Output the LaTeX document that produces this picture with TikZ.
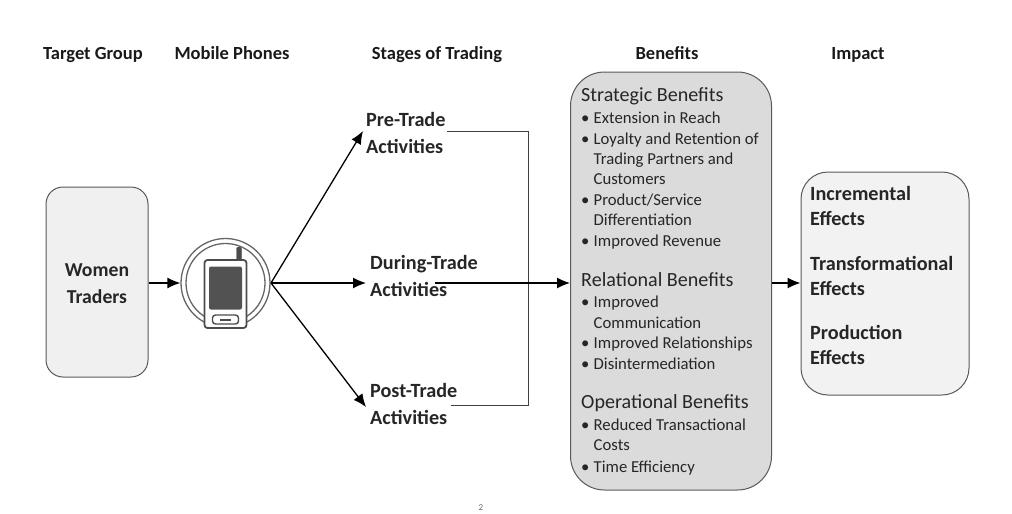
\documentclass[tikz,border=0pt]{standalone}
\usepackage{fontspec}
\setmainfont{Carlito}
\usepackage{tikz}
\usetikzlibrary{arrows.meta}
\usetikzlibrary{positioning}
\definecolor{boxline}{gray}{0.35}

\begin{document}
\begin{tikzpicture}[x=1pt,y=-1pt]
  \tikzset{heading/.style = {font=\fontsize{18.5}{20}\selectfont\bfseries,inner sep=0pt,anchor=base,text=black!90}}
  \tikzset{stage/.style = {font=\fontsize{20.2}{27.5}\selectfont\bfseries,inner sep=0pt,align=left,anchor=north west,text=black!85}}
  \tikzset{effect/.style = {font=\fontsize{20.2}{25}\selectfont\bfseries,inner sep=0pt,align=left,anchor=north west,text=black!85}}
  \tikzset{groupbox/.style = {draw=boxline,line width=1pt,rounded corners=17pt,fill=black!7,inner sep=0pt}}
  \tikzset{benhead/.style = {font=\fontsize{20.1}{22}\selectfont,inner sep=0pt,anchor=base west,text=black!85}}
  \tikzset{benline/.style = {font=\fontsize{16.7}{20}\selectfont,inner sep=0pt,anchor=base west,text=black!85}}
  \tikzset{edge/.style = {-{Latex[length=13pt,width=11pt]},line width=1.3pt,black}}
  \tikzset{plain/.style = {line width=1pt,black!75}}
  \useasboundingbox (0,0) rectangle (1012,514);

	\node[heading] (H1) at (93,59) {Target Group};
	\node[heading] (H2) at (232,59) {Mobile Phones};
	\node[heading] (H3) at (437,59) {Stages of Trading};
	\node[heading] (H4) at (667,59) {Benefits};
	\node[heading] (H5) at (858,59) {Impact};

	% boxes
	\node[groupbox,minimum width=102pt,minimum height=190pt,fill=black!6] (W) at (97,282) {};
	\node[font=\fontsize{19.7}{27}\selectfont\bfseries,align=center,inner sep=0pt,text=black!85] (WT) at (97,284) {Women\\Traders};
	\node[groupbox,minimum width=201pt,minimum height=418pt,rounded corners=34pt,fill=black!14] (B) at (671,281) {};
	\node[groupbox,minimum width=168pt,minimum height=223pt,rounded corners=27pt,fill=black!5] (I) at (885,283.5) {};

	% phone
	\node[circle,draw=black!60,line width=1.3pt,minimum size=89pt,inner sep=0pt] (C1) at (225.5,283) {};
	\node[circle,draw=black!60,line width=1.3pt,minimum size=79pt,inner sep=0pt] (C2) at (225.5,283) {};
	\node[draw=black!70,fill=black!70,rounded corners=2pt,minimum width=5pt,minimum height=14pt,inner sep=0pt] (P0) at (239,254) {};
	\node[draw=black!70,fill=white,line width=1.8pt,rounded corners=3pt,minimum width=42pt,minimum height=68pt,inner sep=0pt] (P1) at (225.5,294) {};
	\node[fill=black!68,rounded corners=2pt,minimum width=33pt,minimum height=43pt,inner sep=0pt] (P2) at (225.5,288) {};
	\node[draw=black!70,line width=1.4pt,rounded corners=3pt,minimum width=26pt,minimum height=9pt,inner sep=0pt] (P3) at (225.5,319.5) {};
	\node[fill=black!70,minimum width=11pt,minimum height=2pt,inner sep=0pt] (P4) at (225.5,319.5) {};

	% stages
	\node[stage] (S1) at (366,112) {Pre-Trade\\Activities};
	\node[stage] (S2) at (370,255) {During-Trade\\Activities};
	\node[stage] (S3) at (370,383) {Post-Trade\\Activities};

	\node[effect] (E1) at (810,186) {Incremental\\Effects};
	\node[effect] (E2) at (810,256) {Transformational\\Effects};
	\node[effect] (E3) at (810,325) {Production\\Effects};

	% benefits
	\foreach \name/\ypos/\txt in {a/101/Strategic Benefits,b/286/Relational Benefits,c/408/Operational Benefits}
	\node[benhead] (BH\name) at (581,\ypos) {\txt};
	\foreach \ypos/\txt in {123/Extension in Reach,144/Loyalty and Retention of,205/{Product/Service},246/Improved Revenue,307/Improved,348/Improved Relationships,369/Disintermediation,430/Reduced Transactional,472/Time Efficiency}
	{
	\node[benline] (BD\ypos) at (581,\ypos) {\textbullet};
	\node[benline] (BB\ypos) at (593.5,\ypos) {\txt};
	}
	\foreach \ypos/\txt in {164/Trading Partners and,184/Customers,225/Differentiation,328/Communication,450/Costs}
	\node[benline] (BL\ypos) at (593.5,\ypos) {\txt};

	\node[font=\fontsize{9}{10}\selectfont,inner sep=0pt,text=black!60] (N) at (481,508) {2};

	\coordinate (Hub) at (271,283);
	\coordinate (A1) at (363,131);
	\coordinate (A2) at (366,283);
	\coordinate (A3) at (366,407);
	\coordinate (L1) at (447,131);
	\coordinate (L2) at (435,283);
	\coordinate (L3) at (451,405);
	\coordinate (Mid) at (528,283);

	\draw[edge] (W.east |- Hub) -- (C1.west);
	\draw[edge] (Hub) -- (A1);
	\draw[edge] (Hub) -- (A2);
	\draw[edge] (Hub) -- (A3);
	\draw[plain] (L1) -| (Mid);
	\draw[plain] (L3) -| (Mid);
	\draw[edge] (L2) -- (B.west |- L2);
	\draw[edge] (B.east |- L2) -- (I.west |- L2);

\end{tikzpicture}
\end{document}
